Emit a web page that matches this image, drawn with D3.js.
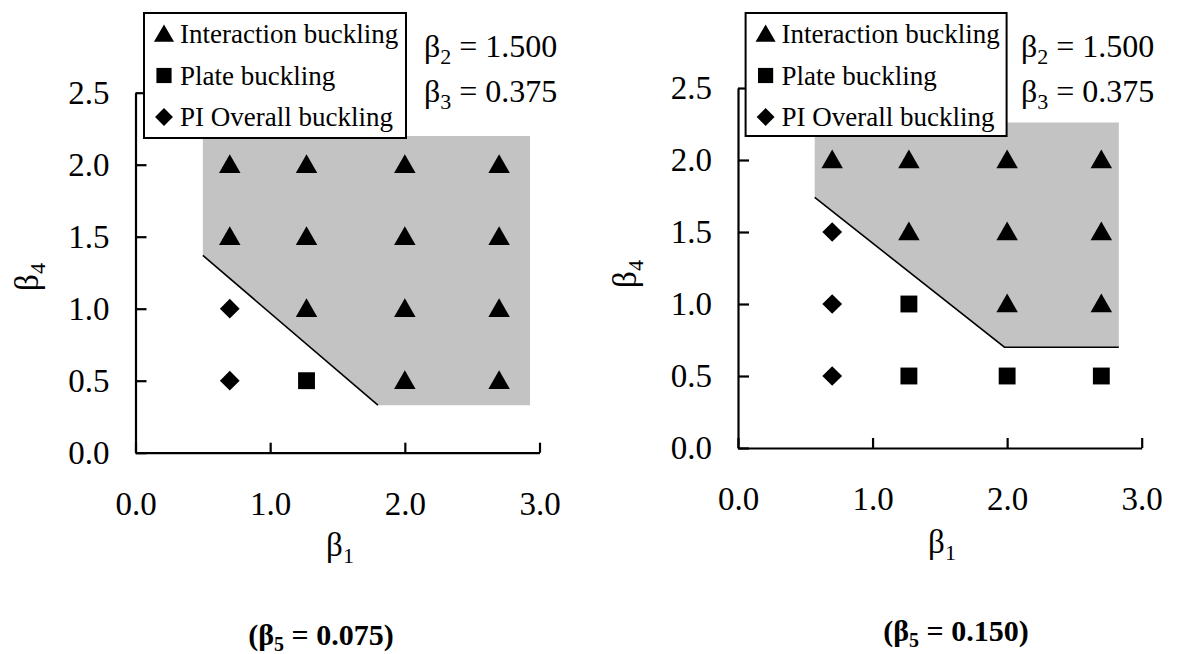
<!DOCTYPE html>
<html><head><meta charset="utf-8">
<script src="https://cdn.jsdelivr.net/npm/d3@7"></script>
<style>
body{margin:0;background:#fff;}
text{font-family:"Liberation Serif","Times New Roman",serif;fill:#000;}
</style></head>
<body><svg id="c" width="1177" height="654"></svg>
<script>
// ---- data ----
const beta1Values = [0.7, 1.27, 2.0, 2.7];
const beta4Values = [0.5, 1.0, 1.5, 2.0];
const xTicks = [0.0, 1.0, 2.0, 3.0];
const yTicks = [0.0, 0.5, 1.0, 1.5, 2.0, 2.5];
const legendLabels = ["Interaction buckling", "Plate buckling", "PI Overall buckling"];
// modes per row (beta4 = 0.5, 1.0, 1.5, 2.0), columns beta1Values; T=interaction, S=plate, D=PI overall
const leftModes = [
  ["D","S","T","T"],
  ["D","T","T","T"],
  ["T","T","T","T"],
  ["T","T","T","T"]];
const rightModes = [
  ["D","S","S","S"],
  ["D","S","T","T"],
  ["D","T","T","T"],
  ["T","T","T","T"]];
const leftRegion = [[0.5,2.2],[2.93,2.2],[2.93,0.33],[1.8,0.33],[0.5,1.37]];
const leftBoundary = [[0.5,1.37],[1.8,0.33]];
const rightRegion = [[0.57,2.26],[2.83,2.26],[2.83,0.7],[1.98,0.7],[0.57,1.74]];
const rightBoundary = [[0.57,1.74],[1.98,0.7],[2.83,0.7]];
const beta2Text = "1.500", beta3Text = "0.375";
const captions = ["0.075", "0.150"];

const svg = d3.select("#c");
const fmt = d3.format(".1f");

function marker(m, big){
  if (m === "T") return {d: d3.symbol().type(d3.symbolTriangle).size(big?200:175)(), rot:0, dy: 2};
  if (m === "S") return {d: d3.symbol().type(d3.symbolSquare).size(big?285:230)(), rot:0, dy:0};
  return {d: d3.symbol().type(d3.symbolSquare).size(big?195:160)(), rot:45, dy:0};
}

function panel(cfg){
  const x = d3.scaleLinear().domain([0,3]).range([cfg.x0, cfg.x1]);
  const y = d3.scaleLinear().domain([0,2.5]).range([cfg.y0, cfg.y1]);
  const g = svg.append("g");
  // shaded region
  g.append("path").datum(cfg.region)
    .attr("d", d3.line().x(d=>x(d[0])).y(d=>y(d[1])).curve(d3.curveLinearClosed))
    .attr("fill", "#c3c3c3");
  g.append("path").datum(cfg.boundary)
    .attr("d", d3.line().x(d=>x(d[0])).y(d=>y(d[1])))
    .attr("fill","none").attr("stroke","#000").attr("stroke-width",1.6);
  // axes
  const ya = g.append("g").attr("transform",`translate(${cfg.x0},0)`)
    .call(d3.axisLeft(y).tickValues(yTicks).tickFormat(fmt).tickSizeInner(-11).tickSizeOuter(0).tickPadding(26));
  const xa = g.append("g").attr("transform",`translate(0,${cfg.y0})`)
    .call(d3.axisBottom(x).tickValues(xTicks).tickFormat(fmt).tickSizeInner(-10).tickSizeOuter(0).tickPadding(39));
  [ya,xa].forEach(a=>{
    a.selectAll("path,line").attr("stroke","#000").attr("stroke-width",2.2);
    a.selectAll("text").attr("font-size",33).attr("font-family","Liberation Serif");
  });
  // markers
  cfg.modes.forEach((row,i)=>row.forEach((m,j)=>{
    const mk = marker(m, true);
    g.append("path").attr("d", mk.d)
      .attr("transform",`translate(${x(beta1Values[j])},${y(beta4Values[i]) + mk.dy}) rotate(${mk.rot})`)
      .attr("fill","#000");
  }));
  // axis titles
  const yt = g.append("text").attr("transform",`translate(${cfg.ylx},${cfg.yly}) rotate(-90)`)
    .attr("text-anchor","middle").attr("font-size",33);
  yt.append("tspan").text("β");
  yt.append("tspan").attr("font-size",22).attr("dy",7).text("4");
  const xt = g.append("text").attr("x",cfg.xlx).attr("y",cfg.xly)
    .attr("text-anchor","middle").attr("font-size",33);
  xt.append("tspan").text("β");
  xt.append("tspan").attr("font-size",22).attr("dy",7).text("1");
  // legend
  const lg = g.append("g").attr("transform",`translate(${cfg.lx},${cfg.ly})`);
  lg.append("rect").attr("x",0).attr("y",0).attr("width",cfg.lw).attr("height",cfg.lh)
    .attr("fill","#fff").attr("stroke","#000").attr("stroke-width",2);
  ["T","S","D"].forEach((m,k)=>{
    const cy = 21 + k*41.5;
    const mk = marker(m, false);
    lg.append("path").attr("d", mk.d)
      .attr("transform",`translate(20,${cy + mk.dy}) rotate(${mk.rot})`).attr("fill","#000");
    lg.append("text").attr("x",36).attr("y",cy+9).attr("font-size",27).text(legendLabels[k]);
  });
  // parameter labels
  [["2",beta2Text,cfg.py],["3",beta3Text,cfg.py+45]].forEach(([s,v,yy])=>{
    const t = g.append("text").attr("x",cfg.px).attr("y",yy).attr("font-size",32);
    t.append("tspan").text("β");
    t.append("tspan").attr("font-size",22).attr("dy",7).text(s);
    t.append("tspan").attr("dy",-7).text(" = " + v);
  });
  // caption
  const c = g.append("text").attr("x",cfg.cx).attr("y",cfg.cy).attr("text-anchor","middle")
    .attr("font-size",30).attr("font-weight","bold");
  c.append("tspan").text("(β");
  c.append("tspan").attr("font-size",20).attr("dy",6).text("5");
  c.append("tspan").attr("dy",-6).text(" = " + cfg.cap + ")");
}

panel({x0:135.5, x1:539.5, y0:452.7, y1:92.7, region:leftRegion, boundary:leftBoundary, modes:leftModes,
  ylx:38, yly:277, xlx:340, xly:556, lx:144, ly:13, lw:262, lh:125, px:424, py:57, cx:321, cy:645, cap:captions[0]});
panel({x0:738, x1:1141.7, y0:448, y1:88, region:rightRegion, boundary:rightBoundary, modes:rightModes,
  ylx:636, yly:274, xlx:942, xly:553, lx:745.6, ly:13, lw:261, lh:123, px:1021, py:57, cx:956, cy:641, cap:captions[1]});
</script></body></html>
